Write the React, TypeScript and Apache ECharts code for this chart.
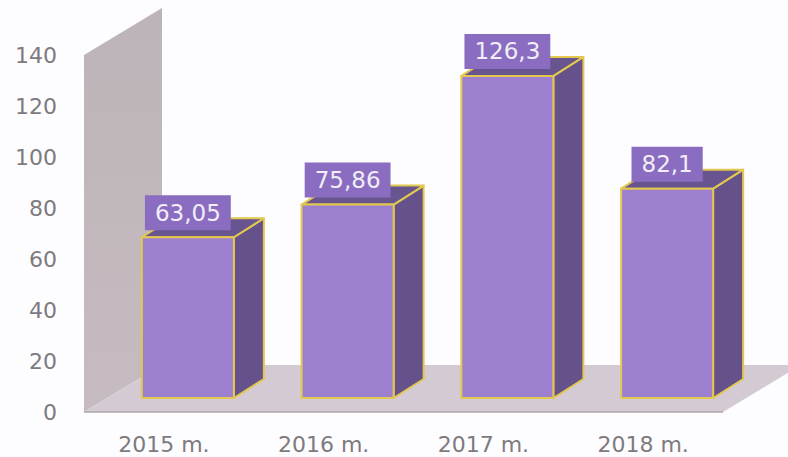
import React, { useEffect, useRef } from "react";
import * as echarts from "echarts";

const categories = ["2015 m.", "2016 m.", "2017 m.", "2018 m."];
const barValues = [63.05, 75.86, 126.3, 82.1];
const barLabels = ["63,05", "75,86", "126,3", "82,1"];
const yTicks = { min: 0, max: 140, interval: 20 };

const FONT = '"DejaVu Sans", Verdana, sans-serif';
const TICK_COLOR = "#7e7a7e";

// Extrusion of the room (wall and floor) and of each column, in pixels.
const ROOM_DX = 78;
const ROOM_DY = 47;
const BAR_DX = 30;
const BAR_DY = 19;
const BAR_SHIFT_X = 24;
const BAR_SHIFT_Y = 14;
const BAR_WIDTH = 92;

function renderRoom(params: any, api: any) {
  const cs = params.coordSys;
  const left = cs.x;
  const right = cs.x + cs.width;
  const top = api.coord([0, yTicks.max])[1];
  const bottom = api.coord([0, yTicks.min])[1];
  return {
    type: "group",
    children: [
      {
        type: "polygon",
        shape: {
          points: [
            [left, top],
            [left + ROOM_DX, top - ROOM_DY],
            [left + ROOM_DX, bottom - ROOM_DY],
            [left, bottom],
          ],
        },
        style: {
          fill: new echarts.graphic.LinearGradient(0, 0, 0, 1, [
            { offset: 0, color: "#bcb4b8" },
            { offset: 1, color: "#c6bbc0" },
          ]),
        },
      },
      {
        type: "polygon",
        shape: {
          points: [
            [left, bottom],
            [right, bottom],
            [right + ROOM_DX, bottom - ROOM_DY],
            [left + ROOM_DX, bottom - ROOM_DY],
          ],
        },
        style: { fill: "#d3cad3" },
      },
      {
        type: "line",
        shape: { x1: left, y1: bottom, x2: right, y2: bottom },
        style: { stroke: "#aca6aa", lineWidth: 1.5 },
      },
    ],
  };
}

function renderColumn(_params: any, api: any) {
  const idx = api.value(0);
  const [cx, topRaw] = api.coord([idx, api.value(1)]);
  const baseRaw = api.coord([idx, 0])[1];
  const x0 = cx + BAR_SHIFT_X - BAR_WIDTH / 2;
  const x1 = x0 + BAR_WIDTH;
  const yTop = topRaw - BAR_SHIFT_Y;
  const yBase = baseRaw - BAR_SHIFT_Y;
  const edge = { stroke: "#e2c84e", lineWidth: 2, lineJoin: "round" };
  return {
    type: "group",
    children: [
      {
        type: "polygon",
        shape: {
          points: [
            [x1, yTop],
            [x1 + BAR_DX, yTop - BAR_DY],
            [x1 + BAR_DX, yBase - BAR_DY],
            [x1, yBase],
          ],
        },
        style: { fill: "#65528a", ...edge },
      },
      {
        type: "polygon",
        shape: {
          points: [
            [x0, yTop],
            [x0 + BAR_DX, yTop - BAR_DY],
            [x1 + BAR_DX, yTop - BAR_DY],
            [x1, yTop],
          ],
        },
        style: { fill: "#68548e", ...edge },
      },
      {
        type: "rect",
        shape: { x: x0, y: yTop, width: BAR_WIDTH, height: yBase - yTop },
        style: { fill: "#9c80cf", ...edge },
      },
      {
        type: "text",
        x: cx + BAR_SHIFT_X,
        y: yTop - 7,
        style: {
          text: barLabels[idx],
          font: `23px ${FONT}`,
          fill: "#f2edf8",
          align: "center",
          verticalAlign: "bottom",
          backgroundColor: "#8a6dc0",
          padding: [6, 10, 6, 10],
        },
      },
    ],
  };
}

export default function App() {
  const ref = useRef<HTMLDivElement>(null);

  useEffect(() => {
    const chart = echarts.init(ref.current!, null, { renderer: "svg" });
    chart.setOption({
      animation: false,
      backgroundColor: "#fdfcfe",
      grid: { left: 84, right: 65, top: 55, bottom: 45, containLabel: false },
      xAxis: {
        type: "category",
        data: categories,
        axisLine: { show: false },
        axisTick: { show: false },
        axisLabel: { color: TICK_COLOR, fontFamily: FONT, fontSize: 22, margin: 21 },
      },
      yAxis: {
        type: "value",
        min: yTicks.min,
        max: yTicks.max,
        interval: yTicks.interval,
        splitLine: { show: false },
        axisLine: { show: false },
        axisTick: { show: false },
        axisLabel: {
          color: TICK_COLOR,
          fontFamily: FONT,
          fontSize: 22,
          margin: 27,
          padding: [3, 0, 0, 0],
        },
      },
      series: [
        {
          type: "custom",
          z: 1,
          silent: true,
          renderItem: renderRoom,
          data: [[0, 0]],
          encode: { x: 0, y: 1 },
        },
        {
          type: "custom",
          z: 2,
          silent: true,
          renderItem: renderColumn,
          data: barValues.map((v, i) => [i, v]),
          encode: { x: 0, y: 1 },
        },
      ],
    });
    return () => chart.dispose();
  }, []);

  return (
    <div
      ref={ref}
      style={{ position: "absolute", left: 0, top: 0, width: 788, height: 457 }}
    />
  );
}
